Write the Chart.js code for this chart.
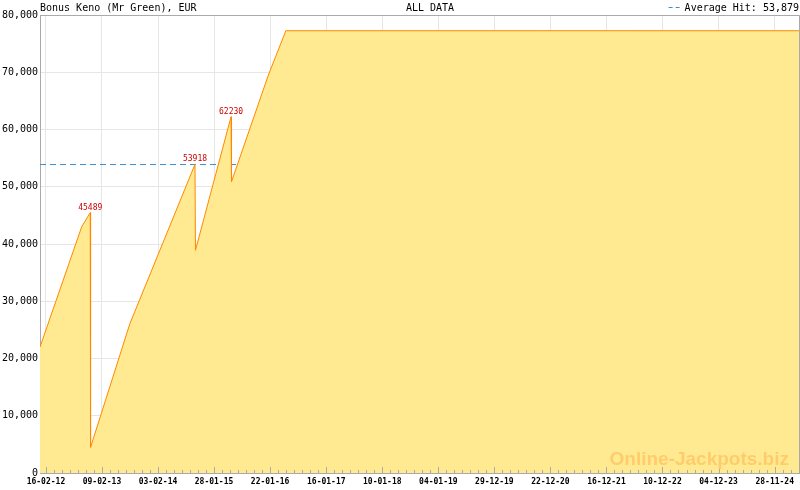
<!DOCTYPE html>
<html>
<head>
<meta charset="utf-8">
<script src="https://cdn.jsdelivr.net/npm/chart.js@4/dist/chart.umd.min.js"></script>
<style>
  html, body { margin: 0; padding: 0; background: #fff; }
  #wrap { width: 800px; height: 490px; }
</style>
</head>
<body>
<div id="wrap"><canvas id="jackpot-chart" width="800" height="490"></canvas></div>
<script>
// jackpot history
const hitDates = ['2012-01-09', '2012-10-02', '2012-11-26', '2012-11-28', '2013-08-07', '2014-09-28',
    '2014-10-01', '2015-05-17', '2015-05-20', '2016-01-11', '2016-05-02', '2025-05-09'];
const jackpotValues = [22000, 43000, 45489, 4500, 26100, 53918, 38900, 62230, 50900, 69500, 77250, 77250];
const averageHit = 53879;

const tickDates = ['2012-02-16', '2013-02-09', '2014-02-03', '2015-01-28', '2016-01-22', '2017-01-16',
    '2018-01-10', '2019-01-04', '2019-12-29', '2020-12-22', '2021-12-16', '2022-12-10', '2023-12-04', '2024-11-28'];
const tickLabels = ['16-02-12', '09-02-13', '03-02-14', '28-01-15', '22-01-16', '16-01-17', '10-01-18',
    '04-01-19', '29-12-19', '22-12-20', '16-12-21', '10-12-22', '04-12-23', '28-11-24'];

const chartTitle = 'Bonus Keno (Mr Green), EUR';
const rangeTitle = 'ALL DATA';

function toDay(s) {
    const p = s.split('-').map(Number);
    return Date.UTC(p[0], p[1] - 1, p[2]) / 86400000;
}

const majorDays = tickDates.map(toDay);
const minorDays = [];
for (let i = 0; i < majorDays.length; i++) {
    const step = i < majorDays.length - 1 ? (majorDays[i + 1] - majorDays[i]) / 7 : (majorDays[i] - majorDays[i - 1]) / 7;
    for (let k = 1; k < 7; k++) minorDays.push(majorDays[i] + k * step);
}
const xMin = toDay(hitDates[0]);
const xMax = toDay(hitDates[hitDates.length - 1]);
const allTicks = majorDays.concat(minorDays).filter(v => v >= xMin && v <= xMax).sort((a, b) => a - b);

const points = hitDates.map((d, i) => ({ x: toDay(d), y: jackpotValues[i] }));

const mono = "'DejaVu Sans Mono', monospace";

const decorations = {
    id: 'decorations',
    afterDraw(chart) {
        const ctx = chart.ctx;
        const area = chart.chartArea;
        const xs = chart.scales.x;
        ctx.save();

        // inward tick marks
        ctx.strokeStyle = '#aaaaaa';
        ctx.lineWidth = 1;
        allTicks.forEach(v => {
            const px = Math.round(xs.getPixelForValue(v)) + 0.5;
            const len = majorDays.includes(v) ? 6 : 3;
            ctx.beginPath();
            ctx.moveTo(px, area.bottom);
            ctx.lineTo(px, area.bottom - len);
            ctx.stroke();
        });

        // frame
        ctx.strokeStyle = '#aaaaaa';
        ctx.beginPath();
        ctx.moveTo(area.left, area.top + 0.5);
        ctx.lineTo(area.right - 0.5, area.top + 0.5);
        ctx.lineTo(area.right - 0.5, area.bottom);
        ctx.stroke();

        // watermark
        ctx.font = "bold 19px 'Liberation Sans', Arial, sans-serif";
        ctx.fillStyle = '#ffcc6c';
        ctx.textAlign = 'right';
        ctx.textBaseline = 'alphabetic';
        ctx.fillText('Online-Jackpots.biz', 789, 465);

        // hit labels above the peaks
        const meta = chart.getDatasetMeta(0);
        ctx.font = '8px ' + mono;
        ctx.fillStyle = '#cc0000';
        ctx.textAlign = 'center';
        jackpotValues.forEach((v, i) => {
            if (i < jackpotValues.length - 1 && jackpotValues[i + 1] < v) {
                const pt = meta.data[i];
                ctx.fillText(String(v), pt.x, pt.y - 3);
            }
        });

        // header
        ctx.font = '10px ' + mono;
        ctx.fillStyle = '#000';
        ctx.textAlign = 'left';
        ctx.fillText(chartTitle, 40, 11);
        ctx.textAlign = 'center';
        ctx.fillText(rangeTitle, 430, 11);
        ctx.textAlign = 'right';
        const avgText = 'Average Hit: ' + averageHit.toLocaleString('en-US');
        ctx.fillText(avgText, 799, 11);
        const w = ctx.measureText(avgText).width;
        ctx.strokeStyle = '#3a8fd0';
        ctx.setLineDash([4, 3]);
        ctx.beginPath();
        ctx.moveTo(799 - w - 16, 7.5);
        ctx.lineTo(799 - w - 3, 7.5);
        ctx.stroke();
        ctx.restore();
    }
};

new Chart(document.getElementById('jackpot-chart'), {
    type: 'line',
    data: {
        datasets: [{
            data: points,
            borderColor: '#ff8800',
            backgroundColor: '#ffea91',
            borderWidth: 1,
            fill: 'origin',
            pointRadius: 0,
            tension: 0
        }, {
            data: [{ x: xMin, y: averageHit }, { x: xMax, y: averageHit }],
            borderColor: '#3a8fd0',
            borderWidth: 1,
            borderDash: [6, 4],
            fill: false,
            pointRadius: 0
        }]
    },
    options: {
        responsive: false,
        animation: false,
        layout: { padding: { top: 15, right: 0, left: 0, bottom: 0 } },
        plugins: {
            legend: { display: false },
            tooltip: { enabled: false }
        },
        scales: {
            x: {
                type: 'linear',
                min: xMin,
                max: xMax,
                afterBuildTicks: scale => { scale.ticks = allTicks.map(v => ({ value: v })); },
                afterFit: scale => {
                    scale.height = 17;
                    scale.paddingLeft = 0;
                    scale.paddingRight = 0;
                },
                grid: {
                    drawTicks: false,
                    color: c => (c.tick && majorDays.includes(c.tick.value)) ? '#e6e6e6' : 'rgba(0,0,0,0)'
                },
                border: { color: '#aaaaaa' },
                ticks: {
                    autoSkip: false,
                    maxRotation: 0,
                    padding: 4,
                    color: '#000',
                    font: { family: mono, size: 8, weight: 'bold' },
                    callback: v => {
                        const i = majorDays.indexOf(v);
                        return i >= 0 ? tickLabels[i] : '';
                    }
                }
            },
            y: {
                min: 0,
                max: 80000,
                afterFit: scale => {
                    scale.width = 40;
                    scale.paddingTop = 0;
                    scale.paddingBottom = 0;
                },
                grid: { drawTicks: false, color: '#e6e6e6' },
                border: { color: '#aaaaaa' },
                ticks: {
                    stepSize: 10000,
                    padding: 2,
                    color: '#000',
                    font: { family: mono, size: 10 },
                    callback: v => v.toLocaleString('en-US')
                }
            }
        }
    },
    plugins: [decorations]
});
</script>
</body>
</html>
